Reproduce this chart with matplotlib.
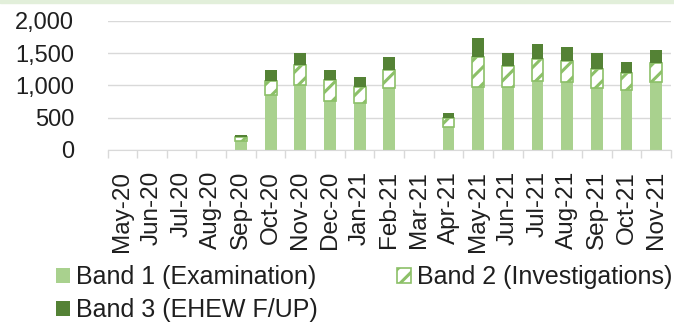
import matplotlib
matplotlib.use("Agg")
import matplotlib.pyplot as plt
from matplotlib.patches import Rectangle, Patch
from matplotlib.ticker import FuncFormatter, FixedLocator
import numpy as np

# monthly counts
months = ["May-20", "Jun-20", "Jul-20", "Aug-20", "Sep-20", "Oct-20", "Nov-20",
          "Dec-20", "Jan-21", "Feb-21", "Mar-21", "Apr-21", "May-21", "Jun-21",
          "Jul-21", "Aug-21", "Sep-21", "Oct-21", "Nov-21"]
band1 = [0, 0, 0, 0, 145, 860, 1000, 765, 725, 955, 0, 360, 970, 970, 1070, 1050, 955, 930, 1050]
band2 = [0, 0, 0, 0, 50, 210, 310, 320, 245, 285, 0, 140, 465, 335, 345, 325, 305, 265, 305]
band3 = [0, 0, 0, 0, 35, 170, 200, 155, 155, 195, 0, 80, 295, 200, 230, 215, 250, 175, 195]
labels = ["Band 1 (Examination)", "Band 2 (Investigations)", "Band 3 (EHEW F/UP)"]

c1 = "#a9d18e"
c2 = "#8cc068"
c3 = "#548235"
txt = "#1f1f1f"

plt.rcParams["font.family"] = ["Liberation Sans", "DejaVu Sans"]
plt.rcParams["hatch.linewidth"] = 2.2
plt.rcParams["hatch.color"] = c2

fig = plt.figure(figsize=(6.74, 3.22), dpi=100)
ax = fig.add_axes([0.1595, 0.5342, 0.8360, 0.4006])

x = np.arange(len(months))
b1 = np.array(band1)
b2 = np.array(band2)
b3 = np.array(band3)
w = 0.4
ax.bar(x, b1, w, color=c1, linewidth=0, zorder=2)
# empty months get no outline, otherwise a stray line shows at zero
edges = [c2 if v > 0 else "none" for v in band2]
ax.bar(x, b2, w, bottom=b1, color="white", edgecolor=edges, hatch="//", linewidth=1.2, zorder=2)
ax.bar(x, b3, w, bottom=b1 + b2, color=c3, linewidth=0, zorder=2)

ax.set_xlim(-0.5, len(months) - 0.5)
ax.set_ylim(0, 2000)
ax.set_yticks([0, 500, 1000, 1500, 2000])
ax.yaxis.set_major_formatter(FuncFormatter(lambda v, p: f"{int(v):,}"))
ax.grid(axis="y", color="#d9d9d9", linewidth=1, zorder=0)
ax.set_axisbelow(True)

ax.set_xticks(x)
ax.set_xticklabels(months, rotation=90, fontsize=17.5, color=txt)
ax.xaxis.set_minor_locator(FixedLocator(np.arange(-0.5, len(months), 1)))
ax.tick_params(axis="x", which="major", length=0, pad=15)
ax.tick_params(axis="x", which="minor", length=6, color="#d9d9d9", width=1)
ax.tick_params(axis="y", length=0, pad=24, labelsize=17, labelcolor=txt)

for s in ["left", "right", "top"]:
    ax.spines[s].set_visible(False)
ax.spines["bottom"].set_color("#d9d9d9")

handles = [Patch(facecolor=c1, linewidth=0),
           Patch(facecolor=c3, linewidth=0),
           Patch(facecolor="white", edgecolor=c2, hatch="//", linewidth=1.2)]
fig.legend(handles, [labels[0], labels[2], labels[1]], ncol=2, loc="upper left",
           bbox_to_anchor=(0.065, 0.215), frameon=False, fontsize=18,
           handlelength=0.55, handleheight=0.55, handletextpad=0.25,
           columnspacing=3.15, labelspacing=0.35, borderpad=0, labelcolor=txt)

# thin green strip along the top edge
fig.patches.append(Rectangle((0, 0.992), 1, 0.008, transform=fig.transFigure,
                             color="#e2efda", zorder=0))

fig.savefig("out.png", dpi=100)
